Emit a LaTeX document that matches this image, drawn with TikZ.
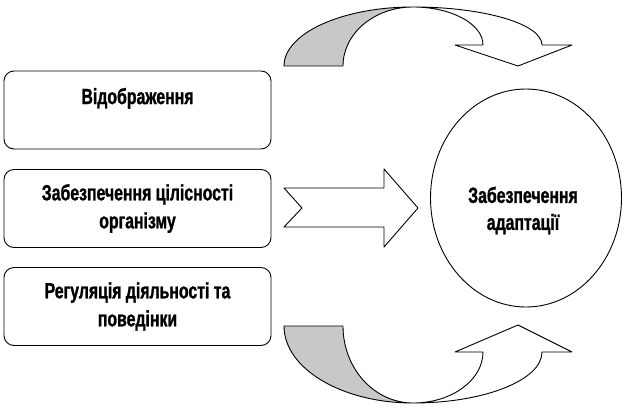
\documentclass[tikz,border=0pt]{standalone}
\usepackage{fontspec}
\newfontfamily\narrowbold[FakeStretch=0.72, FakeBold=1.2]{Liberation Sans Bold}
\usetikzlibrary{shapes.geometric}
\definecolor{bandgray}{RGB}{200,200,200}

\tikzset{
	func/.style={draw, rounded corners=10pt, minimum width=267pt, minimum height=78pt, align=center, font=\narrowbold\fontsize{22}{28}\selectfont},
	goal/.style={draw, ellipse, minimum width=191pt, minimum height=218pt, inner sep=0pt},
	goaltext/.style={align=center, font=\narrowbold\fontsize{22}{27}\selectfont},
	band/.style={draw, line width=0.9pt, line join=round}
}

\begin{document}
\begin{tikzpicture}[x=1pt, y=-1pt, line width=0.9pt]
	\useasboundingbox (0,0) rectangle (624,412);
	% functions on the left
	\node[func] (refl) at (137.5,110) {Відображення\\~};
	\node[func] (integr) at (137.5,208.5) {Забезпечення цілісності\\організму};
	\node[func] (regul) at (137.5,306.5) {Регуляція діяльності та\\поведінки};
	% adaptation
	\node[goal] (adapt) at (526,198) {};
	\node[goaltext] (adapttext) at ([xshift=-3pt,yshift=-12.5pt]adapt.center) {Забезпечення\\адаптації};

	% middle arrow
	\draw[band, fill=white] (284,188) -- (384,188) -- (384,169) -- (418,208) -- (384,247) -- (384,227) -- (284,227) -- (302,208) -- cycle;

	% top curved arrow
	\coordinate (topmeet) at (413,7);
	\draw[band, fill=bandgray] (topmeet) arc[start angle=270, end angle=180, x radius=129, y radius=59]
		-- (343,66) arc[start angle=180, end angle=270, x radius=70, y radius=59];
	\draw[band, fill=white] (topmeet) arc[start angle=270, end angle=360, x radius=70, y radius=38]
		-- (455,45) -- (518,66) -- (572,45) -- (542,45)
		arc[start angle=360, end angle=270, x radius=129, y radius=38];

	% bottom curved arrow
	\coordinate (botmeet) at (413,403);
	\draw[band, fill=bandgray] (botmeet) arc[start angle=90, end angle=180, x radius=129, y radius=77]
		-- (343,326) arc[start angle=180, end angle=90, x radius=70, y radius=77];
	\draw[band, fill=white] (botmeet) arc[start angle=90, end angle=0, x radius=70, y radius=51]
		-- (455,352) -- (518,325) -- (572,352) -- (542,352)
		arc[start angle=0, end angle=90, x radius=129, y radius=51];
\end{tikzpicture}
\end{document}
